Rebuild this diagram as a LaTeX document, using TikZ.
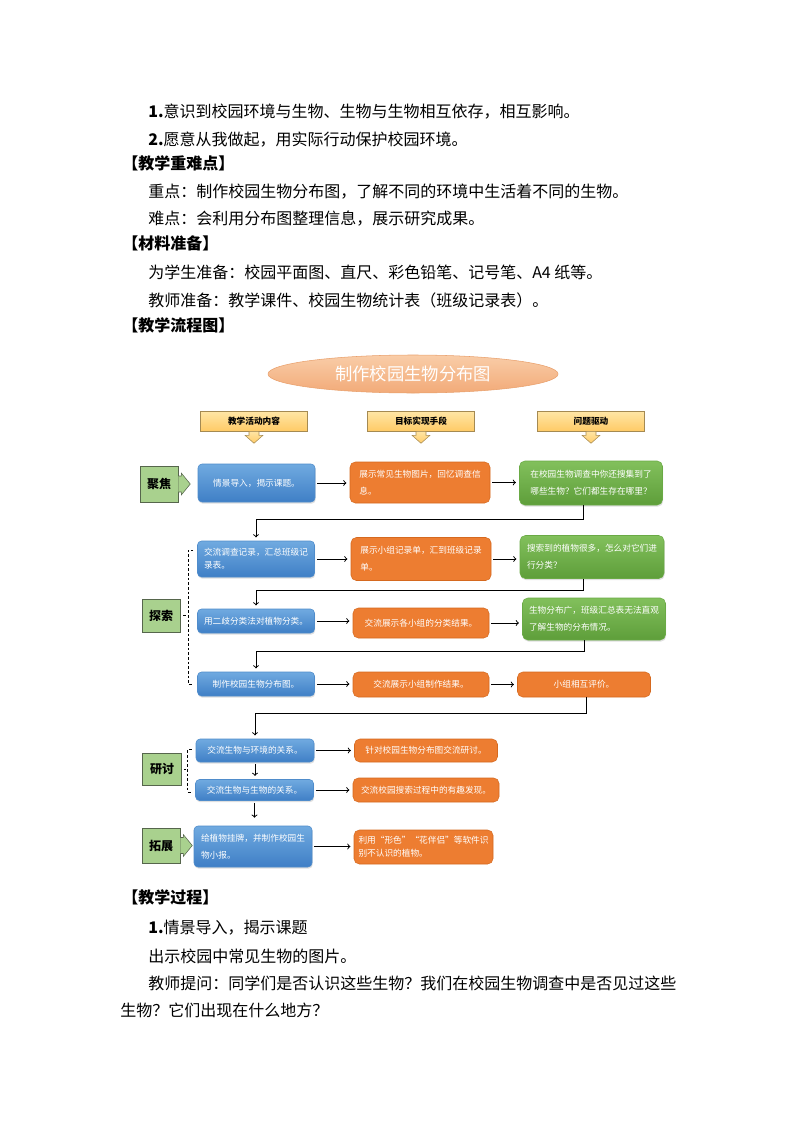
\documentclass[tikz,border=0pt]{standalone}
\usepackage{fontspec}
\setmainfont{Noto Sans CJK SC}
\usetikzlibrary{positioning,shapes.geometric,shadows,calc}
\definecolor{bluetop}{HTML}{70AAE0}
\definecolor{bluebot}{HTML}{3F7FC6}
\definecolor{blueline}{HTML}{4F8CCB}
\definecolor{orangefill}{HTML}{ED7D31}
\definecolor{orangeline}{HTML}{D5691F}
\definecolor{greentop}{HTML}{82C05C}
\definecolor{greenbot}{HTML}{5E9E3A}
\definecolor{greenline}{HTML}{6AAA45}
\definecolor{labgreen}{HTML}{A9D18E}
\definecolor{labline}{HTML}{56664C}
\definecolor{hdtop}{HTML}{FFE6A6}
\definecolor{hdbot}{HTML}{FFCB67}
\definecolor{hdline}{HTML}{A58A52}
\definecolor{ttltop}{HTML}{F9CDA8}
\definecolor{ttlbot}{HTML}{F2AA78}
\definecolor{ttlline}{HTML}{E9A06C}
\newcommand\bxfont{\fontsize{6.5pt}{12.5pt}\selectfont}
\begin{document}
\begin{tikzpicture}[x=0.75pt,y=-0.75pt,
  txt/.style={anchor=west,inner sep=0pt,font=\fontsize{12pt}{14pt}\selectfont},
  head/.style={txt,font=\fontsize{12pt}{14pt}\selectfont\bfseries},
  boxsz/.style 2 args={minimum width=#1*0.75pt,minimum height=#2*0.75pt},
  bluebox/.style={rounded corners=3pt,draw=blueline,top color=bluetop,bottom color=bluebot,
    text=white,font=\bxfont,inner sep=0pt,align=left,
    drop shadow={opacity=0.25,shadow xshift=0.5pt,shadow yshift=-1.2pt}},
  orangebox/.style={rounded corners=4pt,draw=orangeline,fill=orangefill,
    text=white,font=\bxfont,inner sep=0pt,align=left},
  greenbox/.style={rounded corners=4pt,draw=greenline,top color=greentop,bottom color=greenbot,
    text=white,font=\bxfont,inner sep=0pt,align=left,
    drop shadow={opacity=0.25,shadow xshift=0.5pt,shadow yshift=-1.2pt}},
  lab/.style={draw=labline,fill=labgreen,inner sep=0pt,
    font=\fontsize{9pt}{9pt}\selectfont\bfseries},
  hd/.style={draw=hdline,top color=hdtop,bottom color=hdbot,inner sep=0pt,
    font=\fontsize{6.5pt}{7pt}\selectfont\bfseries,boxsz={107}{20}},
  hdarrow/.style={draw=hdline,top color=hdtop,bottom color=hdbot,line width=0.4pt},
  link/.style={->,line width=0.7pt,shorten <=1.5pt,shorten >=2.5pt},
  brace/.style={line width=0.6pt,dash pattern=on 2pt off 1.5pt}]
  \fill[white] (0,0) rectangle (794,1123);
  \useasboundingbox (0,0) rectangle (794,1123);
  % text above the chart
  \node[txt] (t1) at (148,112) {\textbf{1.}意识到校园环境与生物、生物与生物相互依存，相互影响。};
  \node[txt] (t2) at (148,140) {\textbf{2.}愿意从我做起，用实际行动保护校园环境。};
  \node[head] (h1) at (122,163) {【教学重难点】};
  \node[txt] (t3) at (148,192) {重点：制作校园生物分布图，了解不同的环境中生活着不同的生物。};
  \node[txt] (t4) at (148,219) {难点：会利用分布图整理信息，展示研究成果。};
  \node[head] (h2) at (122,243) {【材料准备】};
  \node[txt] (t5) at (148,272) {为学生准备：校园平面图、直尺、彩色铅笔、记号笔、A4 纸等。};
  \node[txt] (t6) at (148,300) {教师准备：教学课件、校园生物统计表（班级记录表）。};
  \node[head] (h3) at (122,325) {【教学流程图】};
  % title and column heads
  \node[ellipse,draw=ttlline,top color=ttltop,bottom color=ttlbot,text=white,inner sep=0pt,
    boxsz={290}{38},font=\fontsize{13pt}{13pt}\selectfont] (ttl) at (413,374) {制作校园生物分布图};
  \node[hd] (hd1) at (254,421) {教学活动内容};
  \node[hd] (hd2) at (421,421) {目标实现手段};
  \node[hd] (hd3) at (591,421) {问题驱动};
  \foreach \h in {hd1,hd2,hd3}
    \draw[hdarrow] ([xshift=-3.75pt]\h.south) -- ++(0,4) -- ++(-4,0) -- ++(9,8)
      -- ++(9,-8) -- ++(-4,0) -- ++(0,-4) -- cycle;
  % row labels
  \node[lab,boxsz={38}{36}] (l1) at (159,484) {聚焦};
  \draw[draw=labline,fill=labgreen,line width=0.4pt] ([yshift=6pt]l1.east) -- ++(3,0) -- ++(0,-3)
    -- ++(9,11) -- ++(-9,11) -- ++(0,-3) -- ++(-3,0);
  \node[lab,boxsz={38}{33}] (l2) at (161,615.5) {探索};
  \node[lab,boxsz={39}{32}] (l3) at (162,769) {研讨};
  \node[lab,boxsz={38}{35}] (l4) at (161,845.5) {拓展};
  \draw[draw=labline,fill=labgreen,line width=0.4pt] ([yshift=6pt]l4.east) -- ++(3,0) -- ++(0,-3)
    -- ++(9,11) -- ++(-9,11) -- ++(0,-3) -- ++(-3,0);
  % boxes
  \node[bluebox,boxsz={117}{38}] (b1) at (256.5,483) {情景导入，揭示课题。};
  \node[orangebox,boxsz={140}{41}] (o1) at (420,482.5) {展示常见生物图片，回忆调查信\\息。};
  \node[greenbox,boxsz={143}{44}] (g1) at (591,483) {在校园生物调查中你还搜集到了\\哪些生物？它们都生存在哪里？};
  \node[bluebox,boxsz={117}{36},font=\fontsize{6.5pt}{9.5pt}\selectfont] (b2) at (256,559) {交流调查记录，汇总班级记\\录表。};
  \node[orangebox,boxsz={140}{43}] (o2) at (421,559) {展示小组记录单，汇到班级记录\\单。};
  \node[greenbox,boxsz={144}{43}] (g2) at (592,557) {搜索到的植物很多，怎么对它们进\\行分类？};
  \node[bluebox,boxsz={117}{24}] (b3) at (256,621) {用二歧分类法对植物分类。};
  \node[orangebox,boxsz={136}{30}] (o3) at (421,623) {交流展示各小组的分类结果。};
  \node[greenbox,boxsz={143}{42}] (g3) at (594,619) {生物分布广，班级汇总表无法直观\\了解生物的分布情况。};
  \node[bluebox,boxsz={117}{24}] (b4) at (256,684) {制作校园生物分布图。};
  \node[orangebox,boxsz={136}{25}] (o4) at (421,684.5) {交流展示小组制作结果。};
  \node[orangebox,boxsz={133}{25}] (o5) at (584,684.5) {小组相互评价。};
  \node[bluebox,boxsz={118}{23}] (b5) at (255,750.5) {交流生物与环境的关系。};
  \node[orangebox,boxsz={143}{23}] (o6) at (426,750.5) {针对校园生物分布图交流研讨。};
  \node[bluebox,boxsz={118}{21}] (b6) at (254.5,790) {交流生物与生物的关系。};
  \node[orangebox,boxsz={146}{24}] (o7) at (426,790) {交流校园搜索过程中的有趣发现。};
  \node[bluebox,boxsz={118}{41}] (b7) at (253,846.5) {给植物挂牌，并制作校园生\\物小报。};
  \node[orangebox,boxsz={139}{34},font=\fontsize{6.5pt}{9.5pt}\selectfont] (o8) at (423.5,847) {利用“形色”“花伴侣”等软件识\\别不认识的植物。};
  % arrows along the rows
  \draw[link] (b1.east) -- (b1.east -| o1.west);
  \draw[link] (o1.east) -- (o1.east -| g1.west);
  \draw[link] (b2.east) -- (b2.east -| o2.west);
  \draw[link] (o2.east) -- (o2.east -| g2.west);
  \draw[link] (b3.east) -- (b3.east -| o3.west);
  \draw[link] (o3.east) -- (o3.east -| g3.west);
  \draw[link] (b4.east) -- (b4.east -| o4.west);
  \draw[link] (o4.east) -- (o4.east -| o5.west);
  \draw[link] (b5.east) -- (b5.east -| o6.west);
  \draw[link] (b6.east) -- (b6.east -| o7.west);
  \draw[link] (b7.east) -- (b7.east -| o8.west);
  % arrows from row to row
  \draw[link,shorten <=0pt] ([xshift=-6pt]g1.south) -- ++(0,14) -| (b2.north);
  \draw[link,shorten <=0pt] ([xshift=-6.75pt]g2.south) -- ++(0,12) -| (b3.north);
  \draw[link,shorten <=0pt] ([xshift=-7.5pt]g3.south) -- ++(0,11) -| (b4.north);
  \draw[link,shorten <=0pt] ([xshift=1.5pt]o5.south) -- ++(0,16) -| (b5.north);
  \draw[link] (b5.south) -- (b5.south |- b6.north);
  \draw[link,shorten >=6pt] (b6.south) -- (b6.south |- b7.north);
  % dashed brackets
  \draw[brace] ($(b2.west)+(-4,-9)$) -| ($(l2.east)+(8,0)$) |- ($(b4.west)+(-4,0)$);
  \draw[brace] (l2.east) ++(3,0) -- ++(5,0);
  \draw[brace] ($(b5.west)+(-4,-1)$) -| ($(l3.east)+(6,0)$) |- ($(b6.west)+(-4,2)$);
  \draw[brace] (l3.east) ++(2,0) -- ++(4,0);
  % text below the chart
  \node[head] (h4) at (122,897) {【教学过程】};
  \node[txt] (t7) at (148,928) {\textbf{1.}情景导入，揭示课题};
  \node[txt] (t8) at (148,956) {出示校园中常见生物的图片。};
  \node[txt] (t9) at (148,983) {教师提问：同学们是否认识这些生物？我们在校园生物调查中是否见过这些};
  \node[txt] (t10) at (120,1010) {生物？它们出现在什么地方？};
\end{tikzpicture}
\end{document}
